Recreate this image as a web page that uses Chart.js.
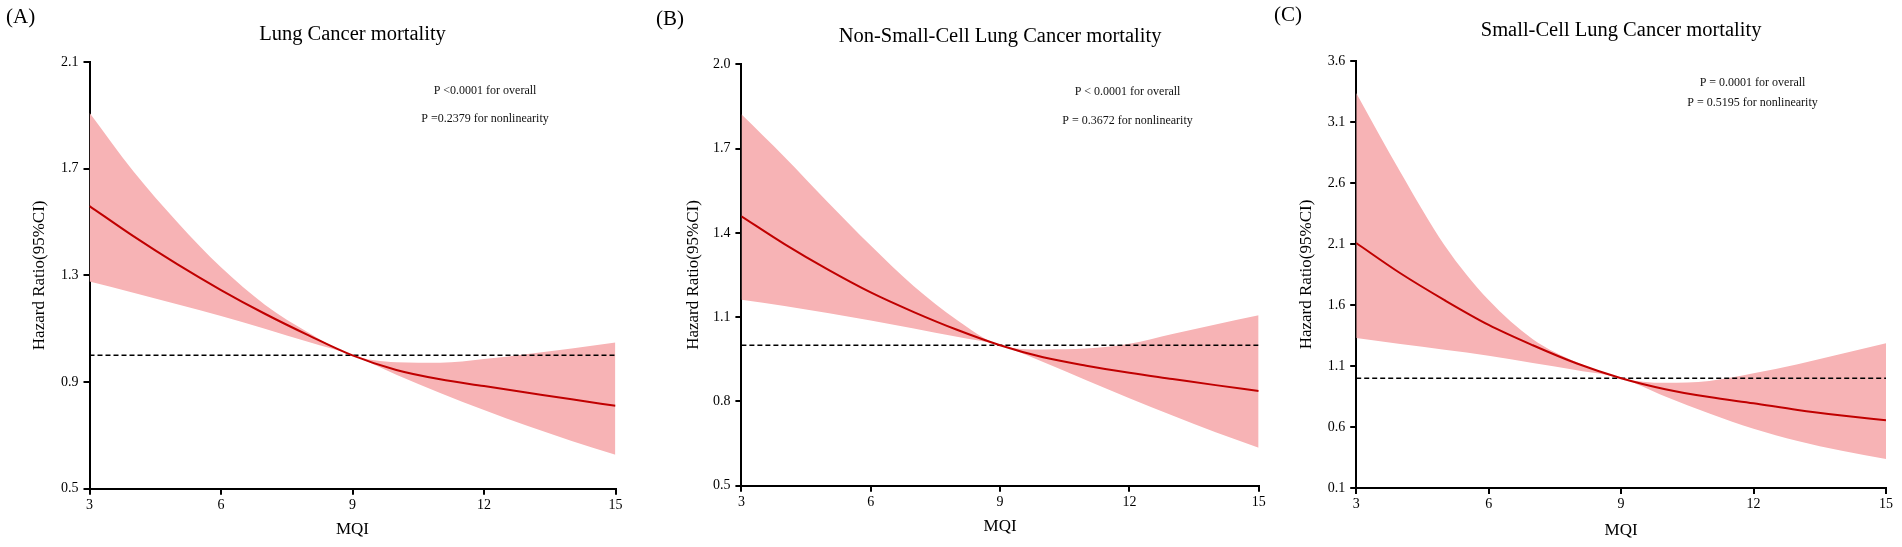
<!DOCTYPE html>
<html>
<head>
<meta charset="utf-8">
<script src="https://cdn.jsdelivr.net/npm/chart.js@4.4.1/dist/chart.umd.min.js"></script>
<style>
html, body { margin: 0; padding: 0; background: #fff; }
#wrap { position: relative; width: 1902px; height: 547px; }
.pane { position: absolute; top: 0; width: 634px; height: 547px; }
</style>
</head>
<body>
<div id="wrap">
	<div class="pane" style="left:0px"><canvas id="chartA"></canvas></div>
	<div class="pane" style="left:634px"><canvas id="chartB"></canvas></div>
	<div class="pane" style="left:1268px"><canvas id="chartC"></canvas></div>
</div>
<script>
// MQI values along the x axis
var mqi = [3, 4, 5, 6, 7, 8, 9, 10, 11, 12, 13, 14, 15];
var xTicks = [3, 6, 9, 12, 15];

// (A) Lung cancer mortality
var hrLung = [1.56, 1.447, 1.342, 1.245, 1.156, 1.075, 1.0, 0.945, 0.91, 0.885, 0.86, 0.835, 0.811];
var upLung = [1.91, 1.69, 1.50, 1.33, 1.19, 1.085, 1.0, 0.974, 0.972, 0.986, 1.005, 1.026, 1.048];
var loLung = [1.277, 1.235, 1.192, 1.148, 1.10, 1.05, 1.0, 0.927, 0.859, 0.795, 0.735, 0.679, 0.627];
var yTicksLung = [0.5, 0.9, 1.3, 1.7, 2.1];

// (B) Non-small-cell lung cancer mortality
var hrNsclc = [1.459, 1.36, 1.27, 1.188, 1.118, 1.055, 1.0, 0.957, 0.927, 0.902, 0.88, 0.858, 0.837];
var upNsclc = [1.822, 1.67, 1.51, 1.355, 1.21, 1.09, 1.0, 0.985, 0.988, 1.005, 1.04, 1.074, 1.107];
var loNsclc = [1.162, 1.14, 1.115, 1.088, 1.06, 1.03, 1.0, 0.94, 0.875, 0.811, 0.75, 0.69, 0.635];
var yTicksNsclc = [0.5, 0.8, 1.1, 1.4, 1.7, 2.0];

// (C) Small-cell lung cancer mortality
var hrSclc = [2.108, 1.86, 1.64, 1.437, 1.27, 1.12, 1.0, 0.91, 0.845, 0.794, 0.74, 0.695, 0.655];
var upSclc = [3.338, 2.69, 2.09, 1.64, 1.32, 1.13, 1.0, 0.962, 0.978, 1.04, 1.115, 1.20, 1.286];
var loSclc = [1.329, 1.28, 1.233, 1.185, 1.125, 1.065, 1.0, 0.85, 0.71, 0.585, 0.485, 0.405, 0.338];
var yTicksSclc = [0.1, 0.6, 1.1, 1.6, 2.1, 2.6, 3.1, 3.6];

var refHR = 1.0;

var serif = '"Liberation Serif", "Times New Roman", serif';

var panels = [
	{ id: 'chartA', label: '(A)', title: 'Lung Cancer mortality',
	  p1: 'P <0.0001 for overall', p2: 'P =0.2379 for nonlinearity',
	  hr: hrLung, up: upLung, lo: loLung, yTicks: yTicksLung,
	  yW: 89.5, padR: 18.5, padT: 62, xH: 58.3, yTitlePad: 29.8, xTitlePad: 6.8,
	  labelX: 6, labelY: 17, titleY: 34.6, pX: 485, p1Y: 90.5, p2Y: 119.3 },
	{ id: 'chartB', label: '(B)', title: 'Non-Small-Cell Lung Cancer mortality',
	  p1: 'P < 0.0001 for overall', p2: 'P = 0.3672 for nonlinearity',
	  hr: hrNsclc, up: upNsclc, lo: loNsclc, yTicks: yTicksNsclc,
	  yW: 107.4, padR: 9.3, padT: 64.3, xH: 61.3, yTitlePad: 49.8, xTitlePad: 9.8,
	  labelX: 22, labelY: 19, titleY: 36.5, pX: 493.5, p1Y: 92, p2Y: 121 },
	{ id: 'chartC', label: '(C)', title: 'Small-Cell Lung Cancer mortality',
	  p1: 'P = 0.0001 for overall', p2: 'P = 0.5195 for nonlinearity',
	  hr: hrSclc, up: upSclc, lo: loSclc, yTicks: yTicksSclc,
	  yW: 88.2, padR: 16, padT: 61, xH: 59, yTitlePad: 28.8, xTitlePad: 5.8,
	  labelX: 6, labelY: 15, titleY: 30.9, pX: 484.5, p1Y: 82.7, p2Y: 103.3 }
];

function pts(ys) {
	return mqi.map(function (x, i) { return { x: x, y: ys[i] }; });
}

var panelText = {
	id: 'panelText',
	afterDraw: function (chart, args, o) {
		var ctx = chart.ctx, ca = chart.chartArea;
		ctx.save();
		ctx.fillStyle = '#000';
		ctx.textBaseline = 'middle';
		ctx.textAlign = 'left';
		ctx.font = '21px ' + serif;
		ctx.fillText(o.label, o.labelX, o.labelY);
		ctx.textAlign = 'center';
		ctx.font = '20.5px ' + serif;
		ctx.fillText(o.title, (ca.left + ca.right) / 2, o.titleY);
		ctx.fillStyle = '#111';
		ctx.font = '12px ' + serif;
		ctx.fillText(o.p1, o.pX, o.p1Y);
		ctx.fillText(o.p2, o.pX, o.p2Y);
		ctx.restore();
	}
};

panels.forEach(function (p) {
	var yMin = p.yTicks[0], yMax = p.yTicks[p.yTicks.length - 1];
	var ctx = document.getElementById(p.id).getContext('2d');
	new Chart(ctx, {
		type: 'line',
		data: {
			datasets: [
				{ label: 'HR', data: pts(p.hr), borderColor: '#C00000', borderWidth: 2,
				  pointRadius: 0, fill: false, cubicInterpolationMode: 'monotone' },
				{ label: 'ref', data: [{ x: mqi[0], y: refHR }, { x: mqi[mqi.length - 1], y: refHR }],
				  borderColor: '#000', borderWidth: 1.5, borderDash: [5, 3], pointRadius: 0, fill: false },
				{ label: 'upper', data: pts(p.up), borderWidth: 0, borderColor: 'rgba(0,0,0,0)',
				  backgroundColor: '#F7B3B5', pointRadius: 0, fill: '+1', cubicInterpolationMode: 'monotone' },
				{ label: 'lower', data: pts(p.lo), borderWidth: 0, borderColor: 'rgba(0,0,0,0)',
				  pointRadius: 0, fill: false, cubicInterpolationMode: 'monotone' }
			]
		},
		options: {
			responsive: true,
			maintainAspectRatio: false,
			animation: false,
			layout: { padding: { left: 0, right: p.padR, top: p.padT, bottom: 0 } },
			plugins: {
				legend: { display: false },
				tooltip: { enabled: false },
				panelText: p
			},
			scales: {
				x: {
					type: 'linear', min: mqi[0], max: mqi[mqi.length - 1],
					afterBuildTicks: function (s) { s.ticks = xTicks.map(function (v) { return { value: v }; }); },
					afterFit: function (s) { s.height = p.xH; },
					ticks: { color: '#000', font: { family: serif, size: 14 }, padding: 2, maxRotation: 0 },
					grid: { display: true, drawOnChartArea: false, drawTicks: true, tickLength: 6, color: '#000', lineWidth: 2 },
					border: { display: true, color: '#000', width: 2 },
					title: { display: true, text: 'MQI', color: '#000', font: { family: serif, size: 17 },
					         padding: { top: 0, bottom: p.xTitlePad } }
				},
				y: {
					type: 'linear', min: yMin, max: yMax,
					afterBuildTicks: function (s) { s.ticks = p.yTicks.map(function (v) { return { value: v }; }); },
					afterFit: function (s) { s.width = p.yW; },
					ticks: { color: '#000', font: { family: serif, size: 14 }, padding: 5,
					         callback: function (v) { return Number(v).toFixed(1); } },
					grid: { display: true, drawOnChartArea: false, drawTicks: true, tickLength: 6, color: '#000', lineWidth: 2 },
					border: { display: true, color: '#000', width: 2 },
					title: { display: true, text: 'Hazard Ratio(95%CI)', color: '#000', font: { family: serif, size: 17 },
					         padding: { top: p.yTitlePad, bottom: 0 } }
				}
			}
		},
		plugins: [panelText]
	});
});
</script>
</body>
</html>
